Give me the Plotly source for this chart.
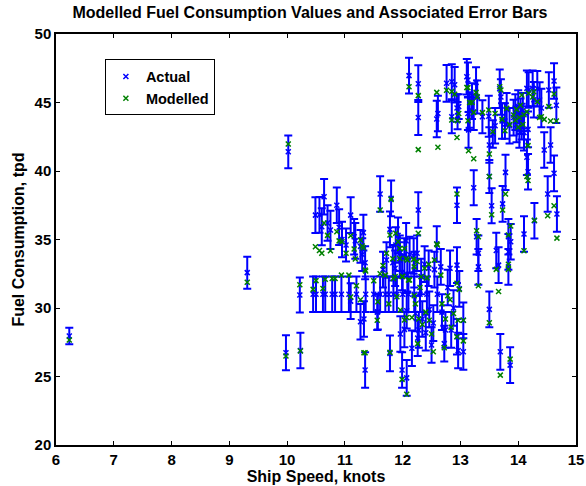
import plotly.graph_objects as go

# ship speed (knots), actual fuel use (tpd), error bar half-size, modelled fuel use (tpd)
speed = [
    6.23, 9.31, 9.98, 10.02, 10.23, 10.22,
    # upper-left group
    10.49, 10.56, 10.60, 10.64, 10.70, 10.75, 10.86, 10.90, 10.95, 11.02, 11.10, 11.16, 11.18,
    11.27, 11.30, 11.32, 11.35, 11.61, 11.80, 11.78, 11.88, 11.92, 11.95, 12.06, 12.27, 12.19, 12.59,
    # row around 31 tpd
    10.45, 10.50, 10.62, 10.66, 10.78, 10.83, 10.94, 11.07, 11.10, 11.20, 11.27, 11.36, 11.50,
    11.57, 11.61, 11.70, 11.76, 11.84, 11.90, 12.00, 12.10, 12.20, 12.30, 12.42,
    # lower left of main cloud
    11.35, 11.33, 11.56, 11.78, 11.99, 12.07, 12.03, 12.16, 11.96, 12.07,
    # centre
    11.83, 11.87, 11.95, 11.99, 12.03, 12.08, 12.12, 12.20, 12.25, 12.32, 12.38, 12.45, 11.72, 11.66,
    12.22, 12.28, 12.34, 12.40, 12.46, 12.50, 12.53, 12.26,
    # centre right
    12.55, 12.60, 12.66, 12.68, 12.74, 12.78, 12.82, 12.84, 12.88, 12.94, 12.94, 12.96, 13.05, 13.05,
    12.98, 12.72,
    # right, middle band
    12.94, 13.23, 13.14, 13.28, 13.31, 13.31, 13.50, 13.50, 13.54, 13.50, 13.66, 13.62, 13.69, 13.73,
    13.78, 13.83, 13.87, 13.83, 13.83, 13.86, 14.10, 14.15, 14.17, 14.28, 14.51, 14.62, 14.67, 14.45,
    14.56,
    # upper right group
    12.11, 12.27, 12.27, 12.59, 12.61, 12.76, 12.85, 12.85, 12.90, 12.95, 12.94, 12.97, 13.11, 13.13,
    13.16, 13.13, 13.20, 13.27, 13.29, 13.23, 13.38, 13.49, 13.56, 13.60, 13.68, 13.70, 13.72, 13.77,
    13.80, 13.85, 13.92, 13.95, 13.97, 14.00, 14.02, 14.04, 14.06, 14.08, 14.10, 14.15, 14.18, 14.17,
    14.25, 14.27, 14.33, 14.37, 14.40, 14.53, 14.62, 14.66,
]

actual = [
    27.96, 32.58, 26.74, 41.40, 26.90, 30.95,
    36.78, 36.80, 35.93, 38.12, 36.20, 35.70, 37.50, 35.90, 35.00, 34.60, 36.78, 35.20, 34.90,
    34.50, 33.90, 35.50, 33.30, 38.32, 38.00, 35.74, 34.60, 35.30, 34.00, 34.90, 37.15, 33.80, 34.67,
    31.00, 31.00, 31.00, 31.00, 31.00, 31.00, 31.00, 31.00, 30.50, 31.00, 29.00, 31.00, 31.00,
    29.73, 31.00, 31.00, 31.00, 31.00, 31.00, 31.00, 31.00, 31.00, 31.00, 31.00,
    25.47, 29.20, 29.70, 26.69, 25.47, 24.90, 28.44, 27.06, 28.10, 29.80,
    33.30, 32.90, 33.50, 32.60, 33.80, 32.40, 33.90, 32.80, 34.00, 32.30, 33.20, 32.90, 33.50, 32.80,
    29.60, 28.40, 29.20, 28.20, 29.90, 27.30, 28.90, 27.80,
    32.80, 31.00, 33.00, 29.70, 28.40, 31.50, 32.90, 28.40, 30.00, 33.13, 27.90, 26.90, 29.10, 26.80,
    31.40, 27.40,
    37.50, 38.78, 43.00, 35.20, 34.00, 33.00, 41.90, 39.60, 37.47, 29.90, 33.13, 34.20, 26.80, 37.60,
    39.90, 35.20, 34.84, 34.10, 33.00, 25.83, 35.40, 41.00, 39.95, 36.37, 38.32, 39.83, 36.86, 41.53,
    41.90,
    46.96, 46.37, 43.90, 43.80, 44.20, 46.40, 46.52, 43.96, 46.30, 44.04, 44.60, 44.70, 46.88, 46.64,
    44.45, 44.20, 45.10, 46.47, 45.40, 44.30, 43.96, 44.00, 42.70, 43.30, 46.00, 45.40, 43.65, 43.65,
    44.50, 43.30, 43.90, 44.30, 43.40, 44.70, 43.00, 44.00, 43.60, 44.40, 42.80, 46.03, 45.91, 43.04,
    46.03, 45.20, 46.00, 45.18, 44.60, 45.91, 46.57, 44.80,
]

err = [
    0.60, 1.17, 1.28, 1.20, 1.30, 1.27,
    1.30, 1.30, 1.35, 1.30, 1.30, 1.40, 1.30, 1.30, 1.30, 1.20, 1.30, 1.30, 1.30,
    1.20, 1.20, 1.30, 1.20, 1.30, 1.30, 1.30, 1.30, 1.30, 1.30, 1.30, 1.30, 1.30, 1.30,
    1.30, 1.30, 1.30, 1.30, 1.30, 1.30, 1.30, 1.30, 1.30, 1.30, 1.30, 1.30, 1.30,
    1.30, 1.30, 1.30, 1.30, 1.30, 1.30, 1.30, 1.30, 1.30, 1.30, 1.30,
    1.30, 1.30, 1.30, 1.30, 1.30, 1.30, 1.30, 1.30, 1.30, 1.30,
    1.30, 1.30, 1.30, 1.30, 1.30, 1.20, 1.30, 1.30, 1.30, 1.30, 1.30, 1.30, 1.30, 1.30,
    1.30, 1.30, 1.30, 1.30, 1.30, 1.30, 1.30, 1.30,
    1.30, 1.30, 1.30, 1.30, 1.30, 1.30, 1.30, 1.30, 1.30, 1.30, 1.30, 1.30, 1.30, 1.30,
    1.30, 1.30,
    1.30, 1.28, 1.30, 1.30, 1.30, 1.30, 1.30, 1.20, 1.28, 1.30, 1.30, 1.30, 1.30, 1.30,
    1.28, 1.30, 1.30, 1.30, 1.30, 1.30, 1.30, 1.30, 1.30, 1.30, 1.30, 1.30, 1.30, 1.30,
    1.30,
    1.31, 1.34, 1.28, 1.33, 1.30, 1.34, 1.28, 1.20, 1.30, 1.00, 1.00, 0.90, 1.30, 1.28,
    1.30, 1.20, 1.30, 1.10, 1.20, 1.30, 1.20, 1.50, 1.00, 1.30, 1.40, 1.30, 1.30, 1.30,
    1.20, 1.30, 1.30, 1.30, 1.30, 1.20, 1.30, 1.30, 1.30, 1.30, 1.30, 1.30, 1.30, 1.30,
    1.30, 1.30, 1.30, 1.30, 1.40, 1.30, 1.30, 1.30,
]

modelled = [
    27.66, 31.88, 26.50, 41.97, 26.86, 31.70,
    34.47, 34.20, 34.00, 36.20, 35.30, 34.18, 35.57, 34.90, 34.84, 34.00, 35.28, 34.30, 33.57,
    34.96, 34.52, 34.40, 32.77, 37.15, 37.93, 35.33, 35.45, 34.84, 34.35, 33.60, 35.45, 33.55, 34.67,
    31.36, 32.00, 31.43, 32.10, 32.16, 32.16, 32.40, 32.40, 30.80, 31.63, 30.60, 32.70, 31.99,
    30.46, 32.50, 32.40, 30.30, 32.16, 30.82, 32.30, 32.04, 30.90, 31.50, 32.20,
    26.74, 26.74, 29.10, 26.76, 24.79, 23.70, 29.12, 29.30, 29.85, 29.30,
    33.60, 32.30, 33.62, 32.30, 34.35, 33.50, 32.04, 33.00, 33.40, 32.28, 32.90, 33.20, 34.00, 33.10,
    30.30, 29.20, 28.80, 29.70, 29.10, 28.10, 26.80, 27.40,
    33.50, 34.60, 32.40, 30.30, 29.20, 30.90, 30.60, 28.60, 29.60, 31.80, 27.90, 29.10, 29.10, 27.60,
    31.36, 27.10,
    38.32, 40.90, 41.48, 35.64, 35.20, 31.63, 41.24, 39.60, 36.80, 28.93, 31.20, 32.82, 25.10, 37.15,
    38.32, 35.33, 35.98, 32.82, 33.20, 26.27, 34.18, 39.60, 39.30, 36.40, 36.74, 37.47, 35.10, 43.77,
    43.65,
    46.15, 45.50, 41.56, 45.74, 41.73, 45.90, 45.80, 43.72, 45.60, 43.67, 42.45, 44.20, 46.10, 46.08,
    44.99, 43.67, 45.00, 45.74, 45.40, 44.28, 44.26, 44.45, 42.87, 44.20, 46.15, 45.91, 43.77, 42.94,
    44.57, 43.40, 44.09, 43.70, 44.50, 43.20, 43.90, 44.80, 45.55, 43.40, 44.10, 44.33, 45.67, 41.85,
    45.40, 45.79, 45.06, 43.90, 43.96, 44.70, 45.62, 43.65,
]

font = "Liberation Sans, Arial, Helvetica, sans-serif"

fig = go.Figure()

# actual values with error bars (blue)
fig.add_trace(go.Scatter(
    x=speed, y=actual, mode="markers", name="Actual",
    marker=dict(symbol="x-thin", size=5, color="#0000ff", line=dict(width=1.5, color="#0000ff")),
    error_y=dict(type="data", array=err, visible=True, color="#0000ff", thickness=2, width=4),
))

# modelled values (green)
fig.add_trace(go.Scatter(
    x=speed, y=modelled, mode="markers", name="Modelled",
    marker=dict(symbol="x-thin", size=5, color="#008000", line=dict(width=1.5, color="#008000")),
))

axis_style = dict(
    showgrid=False, zeroline=False, showline=True, linecolor="black", linewidth=1.5,
    mirror="ticks", ticks="inside", ticklen=4, tickcolor="black", automargin=False,
    tickfont=dict(family=font, size=15, color="black", weight="bold"),
)

fig.update_xaxes(range=[6, 15], dtick=1, tick0=6,
                 title=dict(text="Ship Speed, knots", standoff=4,
                            font=dict(family=font, size=16, color="black", weight="bold")),
                 **axis_style)
fig.update_yaxes(range=[20, 50], dtick=5, tick0=20,
                 title=dict(text="Fuel Consumption, tpd", standoff=6,
                            font=dict(family=font, size=16, color="black", weight="bold")),
                 **axis_style)

fig.update_layout(
    width=586, height=486,
    margin=dict(l=56, r=10, t=34, b=41),
    paper_bgcolor="white", plot_bgcolor="white",
    title=dict(text="Modelled Fuel Consumption Values and Associated Error Bars",
               x=0.529, xanchor="center", y=0.975, yanchor="middle",
               font=dict(family=font, size=16, color="black", weight="bold")),
    legend=dict(x=0.094, y=0.938, xanchor="left", yanchor="top",
                bgcolor="white", bordercolor="black", borderwidth=1,
                font=dict(family=font, size=14.5, color="black", weight="bold")),
    showlegend=True,
)

# drop the default page margin so the figure sits at the window's corner
fig.write_html("out.html", config={"displayModeBar": False},
               post_script="document.body.style.margin = '0px';")
